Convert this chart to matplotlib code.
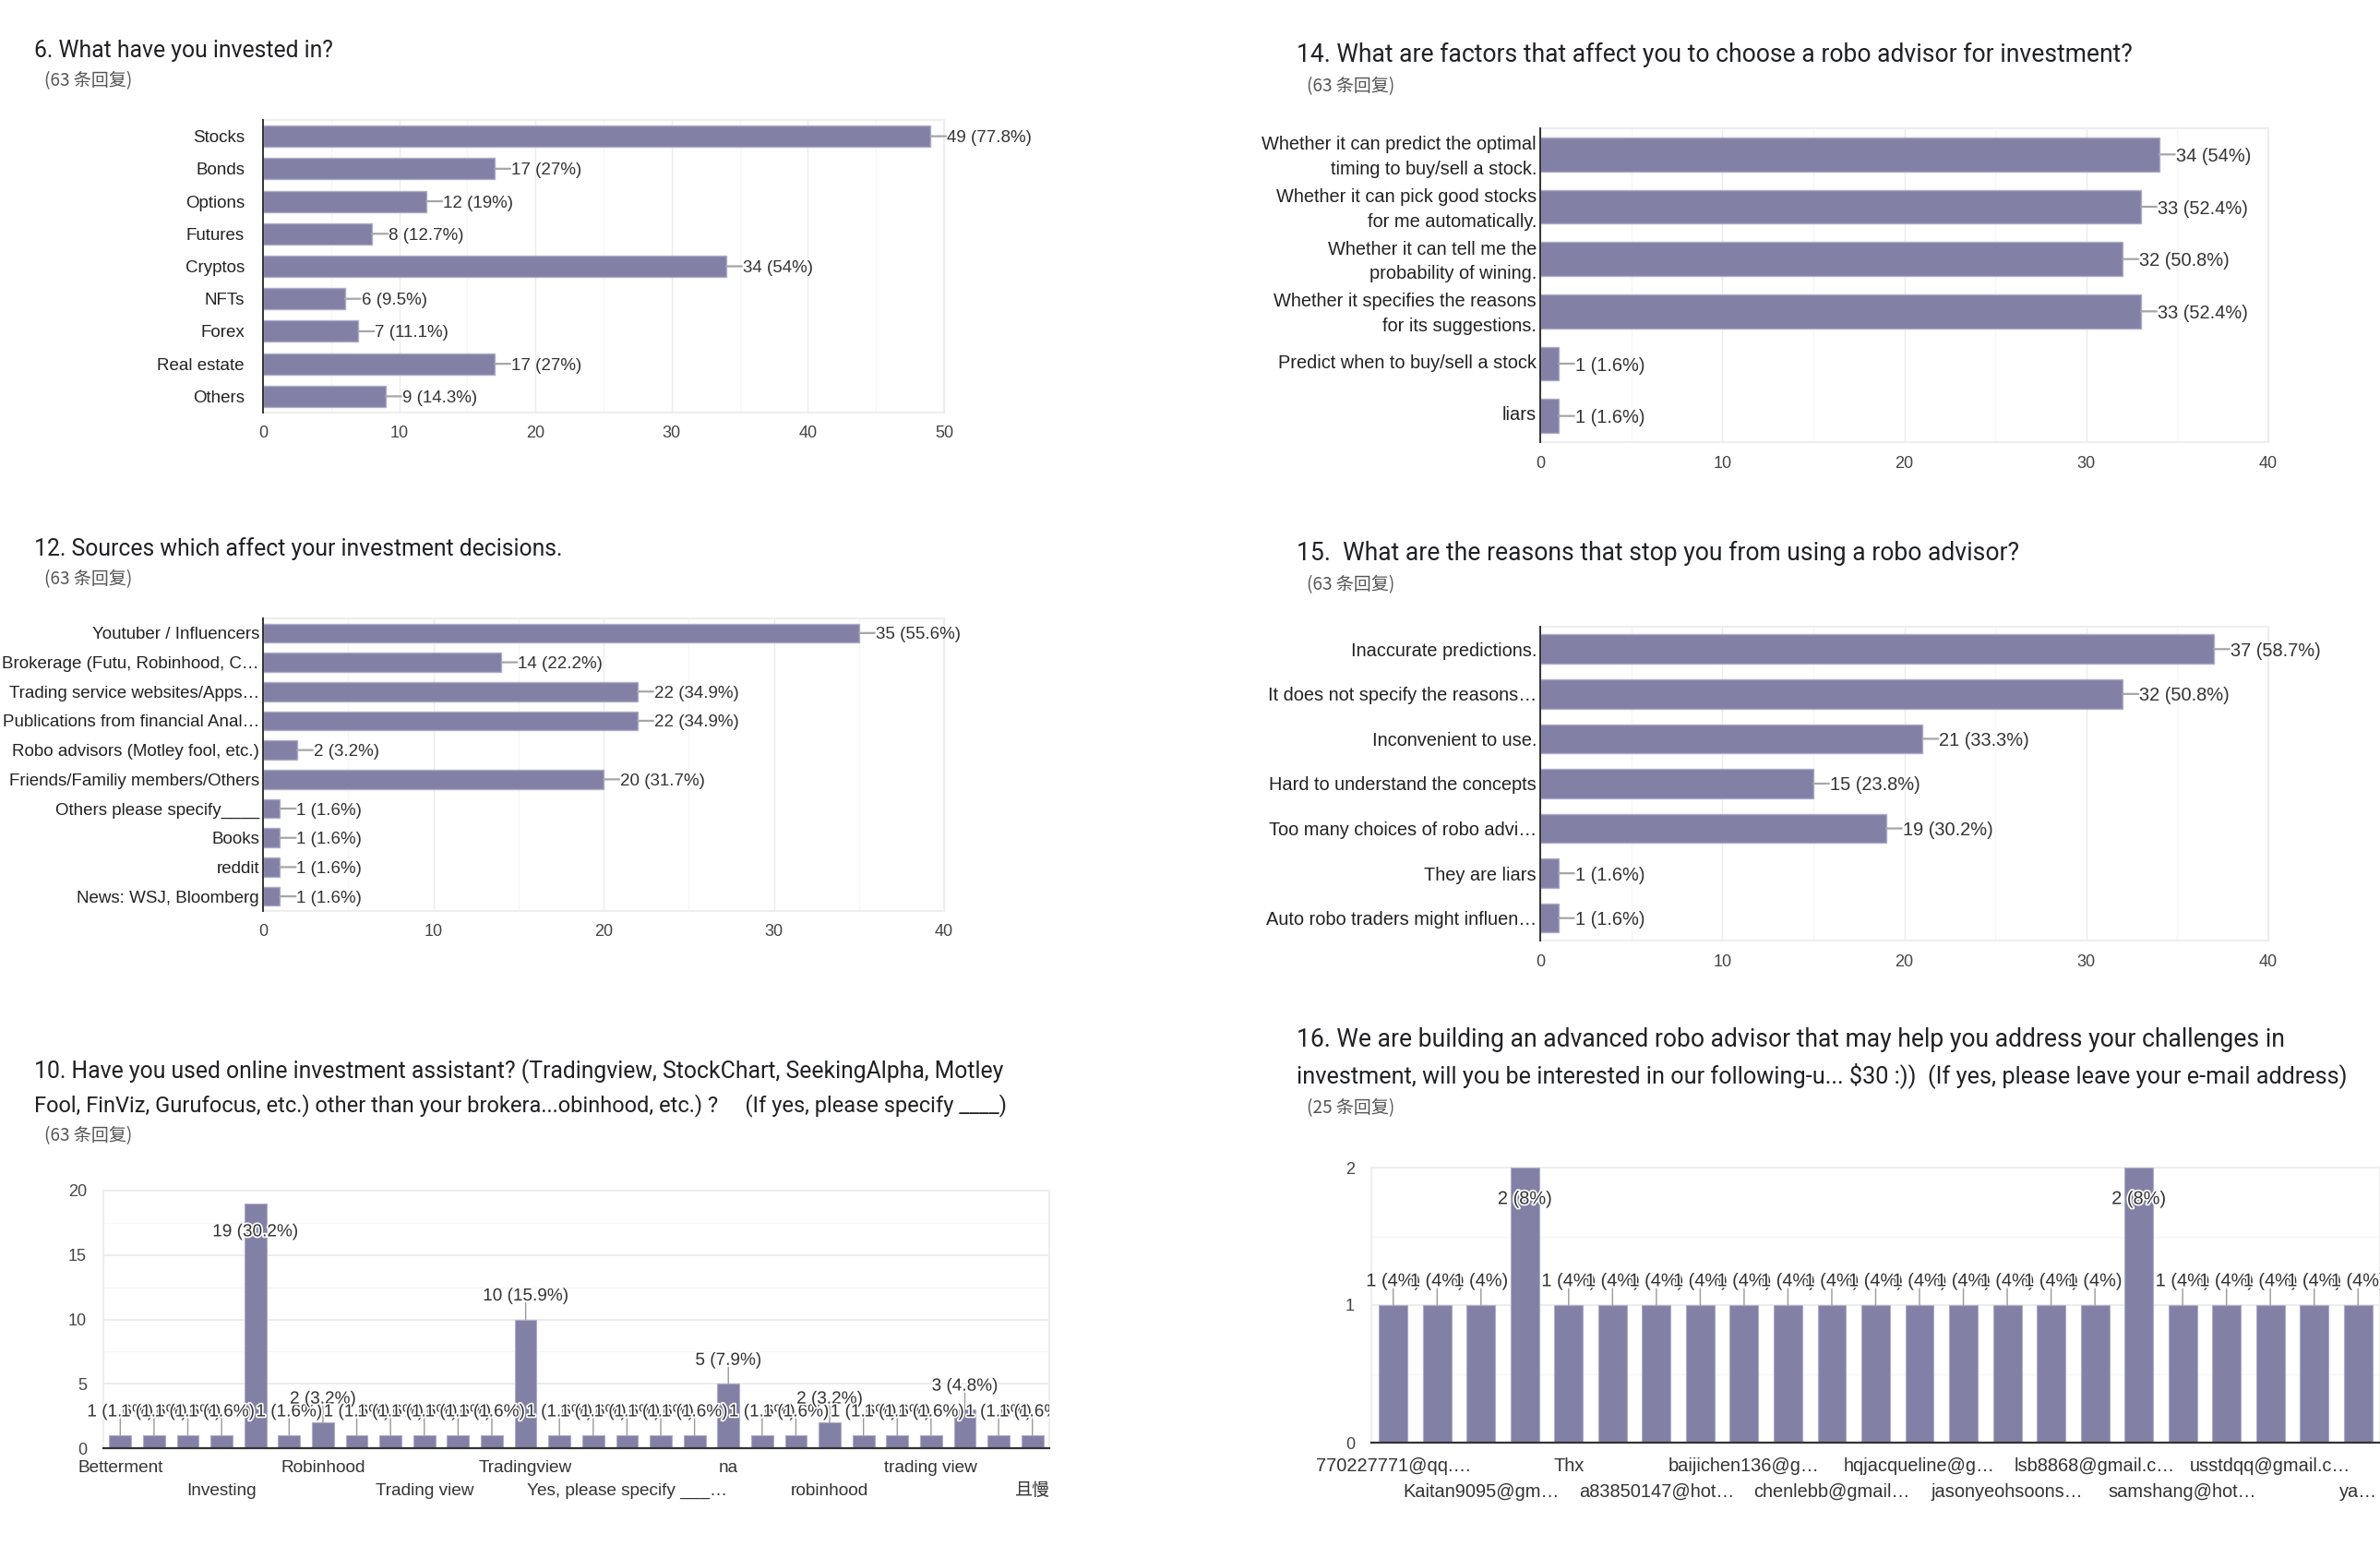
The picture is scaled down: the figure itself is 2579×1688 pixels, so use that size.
import matplotlib
matplotlib.use("Agg")
import matplotlib.pyplot as plt
import matplotlib.patheffects as pe
from matplotlib.transforms import Bbox, Affine2D

W, H = 2579, 1688
BAR = "#8280a5"
BAR_EDGE = "#aeacca"
SANS = ["Liberation Sans", "Noto Sans CJK SC"]
TITLE = ["Roboto", "Noto Sans CJK SC"]
PX = 0.72  # dpi 100, px -> pt

# Q6
q6_labels = ["Stocks", "Bonds", "Options", "Futures", "Cryptos", "NFTs", "Forex", "Real estate", "Others"]
q6_values = [49, 17, 12, 8, 34, 6, 7, 17, 9]
q6_pcts = ["77.8%", "27%", "19%", "12.7%", "54%", "9.5%", "11.1%", "27%", "14.3%"]

# Q12
q12_labels = ["Youtuber / Influencers", "Brokerage (Futu, Robinhood, C…", "Trading service websites/Apps…",
              "Publications from financial Anal…", "Robo advisors (Motley fool, etc.)",
              "Friends/Familiy members/Others", "Others please specify____", "Books", "reddit",
              "News: WSJ, Bloomberg"]
q12_values = [35, 14, 22, 22, 2, 20, 1, 1, 1, 1]
q12_pcts = ["55.6%", "22.2%", "34.9%", "34.9%", "3.2%", "31.7%", "1.6%", "1.6%", "1.6%", "1.6%"]

# Q14
q14_labels = ["Whether it can predict the optimal\ntiming to buy/sell a stock.",
              "Whether it can pick good stocks\nfor me automatically.",
              "Whether it can tell me the\nprobability of wining.",
              "Whether it specifies the reasons\nfor its suggestions.",
              "Predict when to buy/sell a stock", "liars"]
q14_values = [34, 33, 32, 33, 1, 1]
q14_pcts = ["54%", "52.4%", "50.8%", "52.4%", "1.6%", "1.6%"]

# Q15
q15_labels = ["Inaccurate predictions.", "It does not specify the reasons…", "Inconvenient to use.",
              "Hard to understand the concepts", "Too many choices of robo advi…", "They are liars",
              "Auto robo traders might influen…"]
q15_values = [37, 32, 21, 15, 19, 1, 1]
q15_pcts = ["58.7%", "50.8%", "33.3%", "23.8%", "30.2%", "1.6%", "1.6%"]

# Q10
q10_values = [1, 1, 1, 1, 19, 1, 2, 1, 1, 1, 1, 1, 10, 1, 1, 1, 1, 1, 5, 1, 1, 2, 1, 1, 1, 3, 1, 1]
q10_pcts = ["1.6%", "1.6%", "1.6%", "1.6%", "30.2%", "1.6%", "3.2%", "1.6%", "1.6%", "1.6%", "1.6%", "1.6%",
            "15.9%", "1.6%", "1.6%", "1.6%", "1.6%", "1.6%", "7.9%", "1.6%", "1.6%", "3.2%", "1.6%", "1.6%",
            "1.6%", "4.8%", "1.6%", "1.6%"]
q10_ticks = [0, 3, 6, 9, 12, 15, 18, 21, 24, 27]
q10_ticklabels = ["Betterment", "Investing", "Robinhood", "Trading view", "Tradingview",
                  "Yes, please specify ___…", "na", "robinhood", "trading view", "且慢"]

# Q16
q16_values = [1, 1, 1, 2, 1, 1, 1, 1, 1, 1, 1, 1, 1, 1, 1, 1, 1, 2, 1, 1, 1, 1, 1]
q16_pcts = ["4%", "4%", "4%", "8%", "4%", "4%", "4%", "4%", "4%", "4%", "4%", "4%", "4%", "4%", "4%", "4%",
            "4%", "8%", "4%", "4%", "4%", "4%", "4%"]
q16_ticks = [0, 2, 4, 6, 8, 10, 12, 14, 16, 18, 20, 22]
q16_ticklabels = ["770227771@qq.…", "Kaitan9095@gm…", "Thx", "a83850147@hot…", "baijichen136@g…", "chenlebb@gmail…",
                  "hqjacqueline@g…", "jasonyeohsoons…", "lsb8868@gmail.c…", "samshang@hot…", "usstdqq@gmail.c…",
                  "ya…"]

fig = plt.figure(figsize=(W / 100, H / 100), dpi=100, facecolor="white")


def make_axes(left, right, top, bottom):
    ax = fig.add_axes([left / W, 1 - bottom / H, (right - left) / W, (bottom - top) / H])
    for s in ax.spines.values():
        s.set_color("#eeeeee")
        s.set_linewidth(1.6)
    ax.set_axisbelow(True)
    ax.tick_params(length=0, which="both", labelsize=18 * PX, labelcolor="#444444")
    return ax


def hbar_chart(box, labels, values, pcts, xmax, gap, size, xpad, label_up=0):
    ax = make_axes(*box)
    y = list(range(len(values)))
    ax.barh(y, values, height=0.65, color=BAR, edgecolor=BAR_EDGE, linewidth=1.0, zorder=3)
    ax.set_ylim(len(values) - 0.5, -0.5)
    ax.set_xlim(0, xmax)
    ax.set_xticks(range(0, xmax + 1, 10))
    ax.set_xticks(range(5, xmax, 10), minor=True)
    ax.xaxis.grid(True, which="major", color="#ececec", lw=1.0)
    ax.xaxis.grid(True, which="minor", color="#f6f6f6", lw=1.0)
    ax.set_yticks(y)
    ax.set_yticklabels(labels, fontsize=size * PX, color="#222222", family=SANS, linespacing=1.5, ha="right")
    ax.tick_params(axis="y", pad=gap * PX)
    ax.tick_params(axis="x", pad=xpad * PX)
    for t in ax.get_xticklabels():
        t.set_family(SANS)
    if label_up:
        for t in ax.get_yticklabels():
            t.set_transform(t.get_transform() + Affine2D().translate(0, label_up))
    ax.spines["left"].set_color("#333333")
    ax.spines["left"].set_zorder(4)
    ax.spines["left"].set_linewidth(1.4)
    for v, yy, p in zip(values, y, pcts):
        ax.annotate("", xy=(v, yy), xytext=(17, 0), textcoords="offset pixels", annotation_clip=False,
                    arrowprops=dict(arrowstyle="-", color="#a6a6a6", lw=1.6, shrinkA=0, shrinkB=0))
        ax.annotate(f"{v} ({p})", xy=(v, yy), xytext=(18, -2), textcoords="offset pixels", va="center",
                    ha="left", fontsize=size * PX, color="#333333", family=SANS, annotation_clip=False)
    return ax


def column_chart(box, values, pcts, ymax, major, minor, ticks, ticklabels, clip_right, size, xpad, above, inside):
    ax = make_axes(*box)
    x = list(range(len(values)))
    ax.bar(x, values, width=0.65, color=BAR, edgecolor=BAR_EDGE, linewidth=0.8, zorder=3)
    ax.set_xlim(-0.5, len(values) - 0.5)
    ax.set_ylim(0, ymax)
    ax.set_yticks(major)
    ax.set_yticks(minor, minor=True)
    ax.yaxis.grid(True, which="major", color="#ececec", lw=1.4)
    ax.yaxis.grid(True, which="minor", color="#f6f6f6", lw=1.0)
    ax.set_xticks(ticks)
    ax.set_xticklabels([t if i % 2 == 0 else "\n" + t for i, t in enumerate(ticklabels)], family=SANS,
                       fontsize=size * PX, color="#333333", linespacing=1.58)
    ax.tick_params(axis="x", pad=xpad * PX)
    ax.tick_params(axis="y", pad=18 * PX)
    for t in ax.get_yticklabels():
        t.set_family(SANS)
    ax.spines["bottom"].set_color("#333333")
    ax.spines["bottom"].set_zorder(4)
    ax.spines["bottom"].set_linewidth(1.6)
    clip = Bbox([[0, 0], [clip_right, H]])
    halo = [pe.withStroke(linewidth=2.5, foreground="white")]
    for xx, v, p in zip(x, values, pcts):
        # the tallest columns carry their label inside, just under the top
        if v >= ymax * 0.9:
            off, line = inside, False
        else:
            off, line = above, True
        if line:
            ax.annotate("", xy=(xx, v), xytext=(0, 18), textcoords="offset pixels", annotation_clip=False,
                        arrowprops=dict(arrowstyle="-", color="#999999", lw=1.0, shrinkA=0, shrinkB=0), zorder=4)
        t = ax.annotate(f"{v} ({p})", xy=(xx, v), xytext=(0, off), textcoords="offset pixels", va="center",
                        ha="center", fontsize=size * PX, color="#333333", family=SANS, annotation_clip=False,
                        path_effects=halo, zorder=5)
        t.set_clip_on(True)
        t.set_clip_box(clip)
    return ax


def heading(x, y, text, size=24.8):
    fig.text(x / W, 1 - y / H, text, fontsize=size * PX, family=TITLE, color="#202124", va="center", ha="left")


def sub(x, y, text):
    fig.text(x / W, 1 - y / H, text, fontsize=19 * PX, family=["Noto Sans CJK SC", "Liberation Sans"],
             color="#555555", va="center", ha="left")


hbar_chart((285, 1023, 130, 447), q6_labels, q6_values, q6_pcts, 50, 20, 18.8, 14)
hbar_chart((285, 1023, 670, 987), q12_labels, q12_values, q12_pcts, 40, 4, 18.8, 14)
hbar_chart((1669, 2458, 139, 479), q14_labels, q14_values, q14_pcts, 40, 4, 20, 15, label_up=3)
hbar_chart((1669, 2458, 679, 1019), q15_labels, q15_values, q15_pcts, 40, 4, 20, 15)
column_chart((112, 1137, 1290, 1569), q10_values, q10_pcts, 20, [0, 5, 10, 15, 20], [2.5, 7.5, 12.5, 17.5],
             q10_ticks, q10_ticklabels, 1137, 19, 13, 25, -31)
column_chart((1486, W, 1265, 1563), q16_values, q16_pcts, 2, [0, 1, 2], [0.5, 1.5],
             q16_ticks, q16_ticklabels, W, 20, 16, 26, -34)

heading(37, 55, "6. What have you invested in?")
sub(48, 88, "(63 条回复)")
heading(37, 595, "12. Sources which affect your investment decisions.")
sub(48, 628, "(63 条回复)")
heading(37, 1161, "10. Have you used online investment assistant? (Tradingview, StockChart, SeekingAlpha, Motley")
heading(37, 1198, "Fool, FinViz, Gurufocus, etc.) other than your brokera...obinhood, etc.) ?     (If yes, please specify ____)", 23.6)
sub(48, 1231, "(63 条回复)")
heading(1405, 59, "14. What are factors that affect you to choose a robo advisor for investment?", 26.55)
sub(1416, 94, "(63 条回复)")
heading(1405, 599, "15.  What are the reasons that stop you from using a robo advisor?", 26.55)
sub(1416, 634, "(63 条回复)")
heading(1405, 1127, "16. We are building an advanced robo advisor that may help you address your challenges in", 26.55)
heading(1405, 1165, "investment, will you be interested in our following-u... $30 :))  (If yes, please leave your e-mail address)", 25.3)
sub(1416, 1201, "(25 条回复)")

fig.savefig("out.png", dpi=100)
